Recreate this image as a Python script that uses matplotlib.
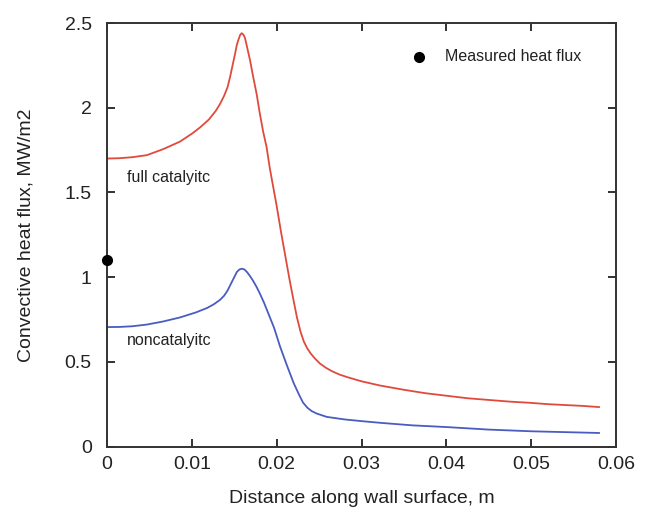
import matplotlib
matplotlib.use("Agg")
import matplotlib.pyplot as plt

plt.rcParams['font.family'] = ['Liberation Sans', 'DejaVu Sans']

# full catalytic wall
x_full = [0.0, 0.0015, 0.0030, 0.0047, 0.0066, 0.0086, 0.0101, 0.0110, 0.0120, 0.0128, 0.0133,
          0.0138, 0.0142, 0.0145, 0.0148, 0.0151, 0.0153, 0.01548, 0.0157, 0.01587, 0.0160,
          0.01615, 0.01627, 0.0165, 0.01686, 0.0172, 0.01764, 0.0180, 0.0184, 0.0188, 0.0192,
          0.0196, 0.0200, 0.0205, 0.0210, 0.0215, 0.0220, 0.0224, 0.0228, 0.0232, 0.0236,
          0.0240, 0.0245, 0.0251, 0.0258, 0.0265, 0.0274, 0.0283, 0.0300, 0.0322, 0.0350,
          0.0375, 0.0400, 0.0425, 0.0450, 0.0475, 0.0499, 0.0520, 0.0540, 0.0560, 0.0580]
y_full = [1.70, 1.702, 1.708, 1.72, 1.755, 1.80, 1.85, 1.885, 1.93, 1.98, 2.02,
          2.07, 2.12, 2.18, 2.25, 2.32, 2.37, 2.40, 2.43, 2.44, 2.435,
          2.425, 2.41, 2.36, 2.28, 2.19, 2.08, 1.97, 1.86, 1.77, 1.64,
          1.53, 1.42, 1.27, 1.13, 0.99, 0.86, 0.76, 0.68, 0.62, 0.58,
          0.55, 0.52, 0.49, 0.465, 0.445, 0.425, 0.41, 0.385, 0.36, 0.335,
          0.315, 0.30, 0.285, 0.275, 0.265, 0.258, 0.25, 0.245, 0.24, 0.233]

# noncatalytic wall
x_non = [0.0, 0.0015, 0.0030, 0.0047, 0.0066, 0.0086, 0.0105, 0.0118, 0.0126, 0.0133, 0.0138,
         0.0142, 0.0146, 0.0150, 0.0153, 0.0156, 0.0159, 0.0162, 0.0165, 0.0168, 0.0172,
         0.0176, 0.0180, 0.0185, 0.0189, 0.0193, 0.0197, 0.0204, 0.0212, 0.0220, 0.0226,
         0.0231, 0.0236, 0.0241, 0.0247, 0.0259, 0.0280, 0.0300, 0.0322, 0.0360, 0.0400,
         0.0450, 0.0500, 0.0540, 0.0580]
y_non = [0.705, 0.706, 0.71, 0.72, 0.738, 0.762, 0.792, 0.818, 0.84, 0.865, 0.89,
         0.92, 0.96, 1.00, 1.03, 1.045, 1.05, 1.045, 1.03, 1.01, 0.98,
         0.945, 0.905, 0.85, 0.80, 0.75, 0.70, 0.59, 0.48, 0.375, 0.31,
         0.26, 0.23, 0.21, 0.195, 0.175, 0.16, 0.15, 0.14, 0.125, 0.115,
         0.10, 0.09, 0.085, 0.08]

# measured value
x_meas = [0.0]
y_meas = [1.10]

fig = plt.figure(figsize=(6.51, 5.08), dpi=100)
ax = fig.add_axes([0.1644, 0.121, 0.7818, 0.8337])

ax.plot(x_full, y_full, color='#e04a3c', lw=1.3)
ax.plot(x_non, y_non, color='#4a5cc0', lw=1.3)
ax.plot(x_meas, y_meas, 'o', color='black', ms=7, clip_on=False, zorder=5)

# legend entry drawn by hand as in the original
ax.plot([0.03676], [2.3], 'o', color='black', ms=7)
ax.text(0.0398, 2.3, 'Measured heat flux', fontsize=11.5, va='center', color='#222222')

ax.text(0.0024, 1.59, 'full catalyitc', fontsize=11.5, va='center', color='#222222')
ax.text(0.0024, 0.625, 'noncatalyitc', fontsize=11.5, va='center', color='#222222')

ax.set_xlim(0, 0.06)
ax.set_ylim(0, 2.5)
ax.set_xticks([0, 0.01, 0.02, 0.03, 0.04, 0.05, 0.06])
ax.set_xticklabels(['0', '0.01', '0.02', '0.03', '0.04', '0.05', '0.06'])
ax.set_yticks([0, 0.5, 1, 1.5, 2, 2.5])
ax.set_yticklabels(['0', '0.5', '1', '1.5', '2', '2.5'])

ax.tick_params(direction='in', top=True, right=True, length=6, width=1.3,
               labelsize=14, colors='#222222', pad=7)
ax.tick_params(axis='y', pad=11)
for s in ax.spines.values():
    s.set_linewidth(1.4)
    s.set_color('#333333')

ax.set_xlabel('Distance along wall surface, m', fontsize=14, color='#222222', labelpad=12)
ax.set_ylabel('Convective heat flux, MW/m2', fontsize=14, color='#222222', labelpad=22)

fig.savefig('out.png', dpi=100)
